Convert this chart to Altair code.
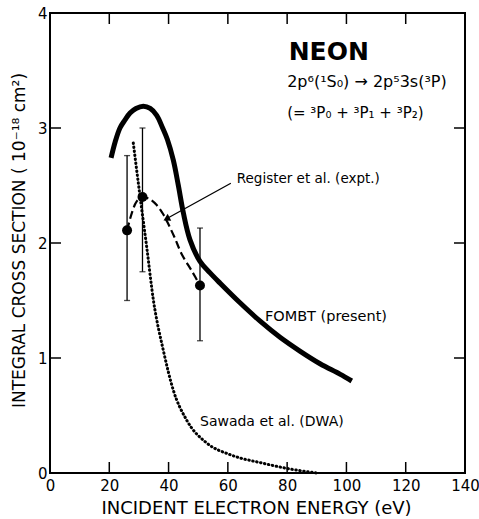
import altair as alt
import pandas as pd

# FOMBT (present) - solid thick curve
fombt_e = [20.6, 22, 23.6, 25.3, 27, 29, 31.5, 33.8, 36, 38, 39.6, 41.6, 43.3, 45, 47.2, 50.6, 54, 57.4, 64.1, 70.9, 77.6, 84.3, 91.1, 97.8, 101.8]
fombt_s = [2.74, 2.88, 3.0, 3.07, 3.13, 3.17, 3.19, 3.17, 3.11, 3.0, 2.9, 2.72, 2.5, 2.26, 2.03, 1.84, 1.74, 1.65, 1.48, 1.32, 1.18, 1.06, 0.95, 0.86, 0.80]

# Register et al. (expt.) - dashed guide curve
reg_curve_e = [26.0, 27.6, 29.2, 31.2, 33.7, 36.0, 38.2, 40.0, 42.0, 44.5, 48.0, 50.6]
reg_curve_s = [2.11, 2.26, 2.36, 2.40, 2.38, 2.33, 2.25, 2.16, 2.05, 1.90, 1.75, 1.63]

# Register et al. data points with error bars
reg_e = [26.0, 31.2, 50.6]
reg_s = [2.11, 2.40, 1.63]
reg_lo = [1.50, 1.75, 1.15]
reg_hi = [2.76, 3.00, 2.13]

# Sawada et al. (DWA) - dotted
saw_e = [28.1, 30.4, 32.6, 34.9, 38.2, 41.6, 46.1, 52.9, 60.7, 72.0, 79.9, 90.0]
saw_s = [2.87, 2.40, 1.97, 1.50, 1.07, 0.72, 0.46, 0.26, 0.16, 0.084, 0.04, 0.0]

x_ticks = [0, 20, 40, 60, 80, 100, 120, 140]
y_ticks = [0, 1, 2, 3, 4]

W, H = 415, 460
FONT = "DejaVu Sans"

xs = alt.Scale(domain=[0, 140], nice=False, zero=False)
ys = alt.Scale(domain=[0, 4], nice=False, zero=False)

fombt_df = pd.DataFrame({"e": fombt_e, "s": fombt_s})
regc_df = pd.DataFrame({"e": reg_curve_e, "s": reg_curve_s})
reg_df = pd.DataFrame({"e": reg_e, "s": reg_s, "lo": reg_lo, "hi": reg_hi})
saw_df = pd.DataFrame({"e": saw_e, "s": saw_s})
xt_df = pd.DataFrame({"v": x_ticks})
yt_df = pd.DataFrame({"v": y_ticks})

x_axis = alt.Axis(values=x_ticks, format="d", tickSize=0, domain=False, grid=False, labelFontSize=15,
                  labelFont=FONT, labelColor="black", labelPadding=5, labelFlush=False,
                  title="INCIDENT ELECTRON ENERGY (eV)", titleFont=FONT, titleFontSize=18,
                  titleFontWeight="normal", titleColor="black", titleAnchor="start",
                  titleAlign="center", titleBaseline="middle", titleX=206, titleY=35)
y_axis = alt.Axis(values=y_ticks, format="d", tickSize=0, domain=False, grid=False, labelFontSize=15,
                  labelFont=FONT, labelColor="black", labelPadding=3, labelFlush=False,
                  title="INTEGRAL CROSS SECTION ( 10⁻¹⁸ cm²)", titleFont=FONT, titleFontSize=17,
                  titleFontWeight="normal", titleColor="black", titleAngle=-90,
                  titleAlign="center", titleBaseline="middle", titleAnchor="start",
                  titleX=-31, titleY=227)

fombt = alt.Chart(fombt_df).mark_line(color="black", strokeWidth=5, interpolate="catmull-rom").encode(
    x=alt.X("e:Q", scale=xs, axis=x_axis),
    y=alt.Y("s:Q", scale=ys, axis=y_axis),
)

regc = alt.Chart(regc_df).mark_line(color="black", strokeWidth=2.2, strokeDash=[8, 4],
                                    interpolate="catmull-rom").encode(
    x=alt.X("e:Q", scale=xs), y=alt.Y("s:Q", scale=ys))

saw = alt.Chart(saw_df).mark_line(color="black", strokeWidth=3, strokeDash=[0.5, 3.5],
                                  strokeCap="round", interpolate="monotone").encode(
    x=alt.X("e:Q", scale=xs), y=alt.Y("s:Q", scale=ys))

err = alt.Chart(reg_df).mark_rule(color="black", strokeWidth=1.3).encode(
    x=alt.X("e:Q", scale=xs), y=alt.Y("lo:Q", scale=ys), y2="hi:Q")
cap_hi = alt.Chart(reg_df).mark_tick(color="black", thickness=1.3, size=6, orient="horizontal").encode(
    x=alt.X("e:Q", scale=xs), y=alt.Y("hi:Q", scale=ys))
cap_lo = alt.Chart(reg_df).mark_tick(color="black", thickness=1.3, size=6, orient="horizontal").encode(
    x=alt.X("e:Q", scale=xs), y=alt.Y("lo:Q", scale=ys))
pts = alt.Chart(reg_df).mark_point(color="black", filled=True, opacity=1, size=100).encode(
    x=alt.X("e:Q", scale=xs), y=alt.Y("s:Q", scale=ys))

# inward tick marks on all four sides
tb = alt.Chart(xt_df).mark_rule(color="black", strokeWidth=1.5).encode(
    x=alt.X("v:Q", scale=xs), y=alt.value(H), y2=alt.value(H - 11))
tt = alt.Chart(xt_df).mark_rule(color="black", strokeWidth=1.5).encode(
    x=alt.X("v:Q", scale=xs), y=alt.value(0), y2=alt.value(11))
tl = alt.Chart(yt_df).mark_rule(color="black", strokeWidth=1.5).encode(
    y=alt.Y("v:Q", scale=ys), x=alt.value(0), x2=alt.value(11))
tr = alt.Chart(yt_df).mark_rule(color="black", strokeWidth=1.5).encode(
    y=alt.Y("v:Q", scale=ys), x=alt.value(W), x2=alt.value(W - 11))

# annotation arrow for Register et al.
arrow_df = pd.DataFrame({"e": [61.0, 39.3], "s": [2.52, 2.21]})
arrow = alt.Chart(arrow_df).mark_line(color="black", strokeWidth=1.2).encode(
    x=alt.X("e:Q", scale=xs), y=alt.Y("s:Q", scale=ys))
head = alt.Chart(arrow_df.iloc[[1]]).mark_point(shape="triangle-up", filled=True, color="black",
                                                opacity=1, size=60, angle=242).encode(
    x=alt.X("e:Q", scale=xs), y=alt.Y("s:Q", scale=ys))


def label(txt, e, s, size=13, weight="normal"):
    return alt.Chart(pd.DataFrame({"t": [txt], "e": [e], "s": [s]})).mark_text(
        align="left", baseline="middle", font=FONT, fontSize=size, fontWeight=weight,
        color="black").encode(x=alt.X("e:Q", scale=xs), y=alt.Y("s:Q", scale=ys), text="t:N")


neon = label("NEON", 80.5, 3.66, size=25, weight="bold")
l1 = label("2p⁶(¹S₀) → 2p⁵3s(³P)", 80.0, 3.40, size=16)
l2 = label("(= ³P₀ + ³P₁ + ³P₂)", 80.0, 3.13, size=15)
l_reg = label("Register  et al. (expt.)", 63.0, 2.56, size=13.5)
l_fombt = label("FOMBT (present)", 72.5, 1.36, size=14.5)
l_saw = label("Sawada  et al. (DWA)", 50.6, 0.44, size=14)

chart = alt.layer(
    fombt, regc, saw, err, cap_hi, cap_lo, pts, tb, tt, tl, tr, arrow, head,
    neon, l1, l2, l_reg, l_fombt, l_saw,
).properties(
    width=W, height=H,
    autosize=alt.AutoSizeParams(type="none"),
    padding={"left": 50, "top": 13, "right": 14, "bottom": 46},
    background="white",
).configure_view(stroke="black", strokeWidth=2)

chart.save("out.html", embed_options={"renderer": "svg", "actions": False})
